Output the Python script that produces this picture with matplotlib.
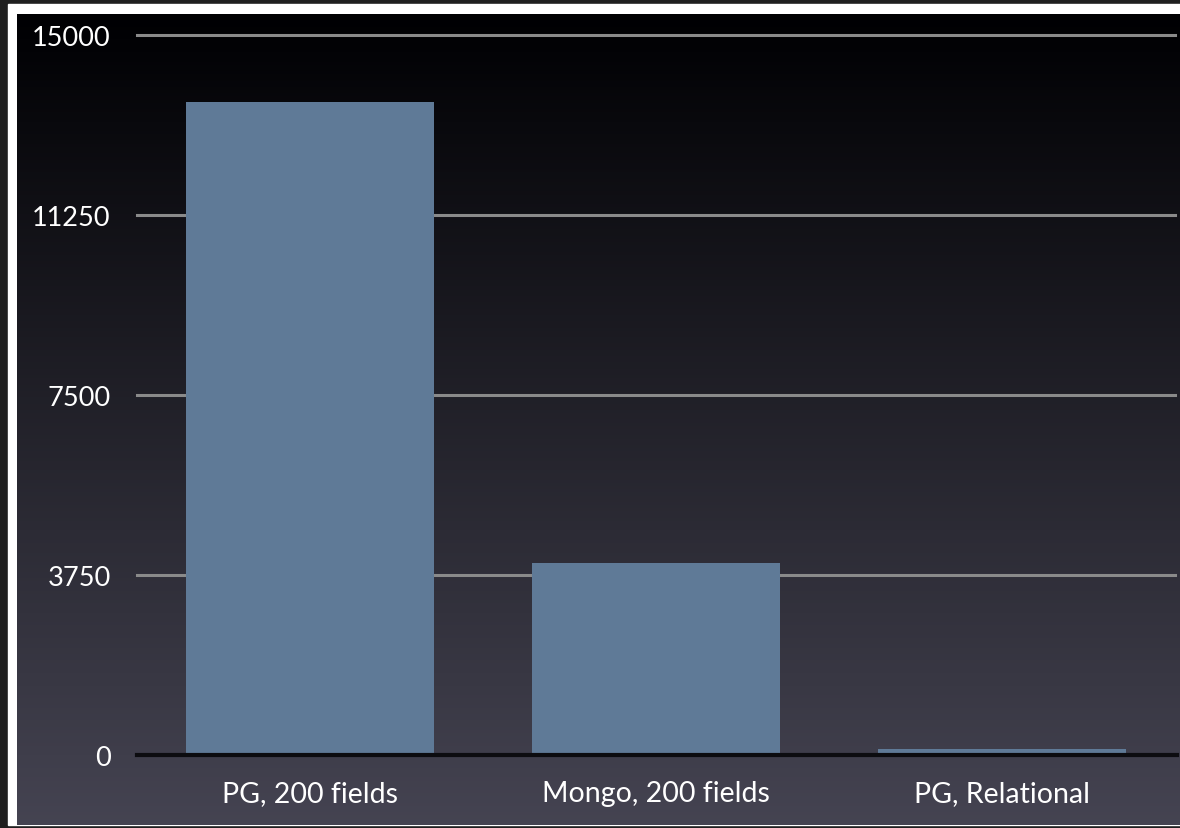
import numpy as np
import matplotlib
matplotlib.use("Agg")
import matplotlib.pyplot as plt
from matplotlib.patches import Rectangle

#----------- Data -----------#
categories = ["PG, 200 fields", "Mongo, 200 fields", "PG, Relational"]
values = [13600, 4000, 120]
yticks = [0, 3750, 7500, 11250, 15000]

#----------- Style -----------#
W, H = 1180, 829
BAR_COLOR = "#5f7a97"
GRID_COLOR = "#8a8a8a"
plt.rcParams['font.family'] = ['Lato', 'DejaVu Sans']

fig = plt.figure(figsize=(W / 100, H / 100), dpi=100, facecolor="#1f1f1f")

# white slide frame (drawn under everything)
fig.patches.append(Rectangle((8 / W, 3 / H), 1172 / W, 821 / H,
                             transform=fig.transFigure, color="white", zorder=-10))

# gradient background of the slide
bg = fig.add_axes([17 / W, 3 / H, 1163 / W, 811 / H])
bg.set_axis_off()
top = np.array([0.0, 0.0, 0.01])
bot = np.array([0.27, 0.265, 0.32])
t = np.linspace(0, 1, 256)[:, None]
grad = top + (bot - top) * t
bg.imshow(grad[:, None, :], aspect="auto", extent=[0, 1, 1, 0])
bg.set_xlim(0, 1)
bg.set_ylim(1, 0)

# main chart
ax = fig.add_axes([137 / W, 73 / H, 1038 / W, 720 / H])
ax.patch.set_visible(False)
x = np.arange(len(categories))
ax.bar(x, values, width=0.717, color=BAR_COLOR, zorder=3)

for v in yticks[1:]:
    ax.axhline(v, color=GRID_COLOR, lw=2.2, zorder=1, clip_on=False)
ax.axhline(0, color="#0c0c10", lw=3, zorder=4, xmax=1.002, clip_on=False)

ax.set_xlim(-0.5, 2.5)
ax.set_ylim(0, 15000)
ax.set_yticks(yticks)
ax.set_yticklabels([str(v) for v in yticks])
ax.set_xticks(x)
ax.set_xticklabels(categories)
ax.tick_params(axis="y", length=0, pad=19, labelsize=19.5, labelcolor="white")
ax.tick_params(axis="x", length=0, pad=18, labelsize=20.5, labelcolor="white")
for s in ax.spines.values():
    s.set_visible(False)

fig.savefig("out.png", dpi=100, facecolor=fig.get_facecolor())
